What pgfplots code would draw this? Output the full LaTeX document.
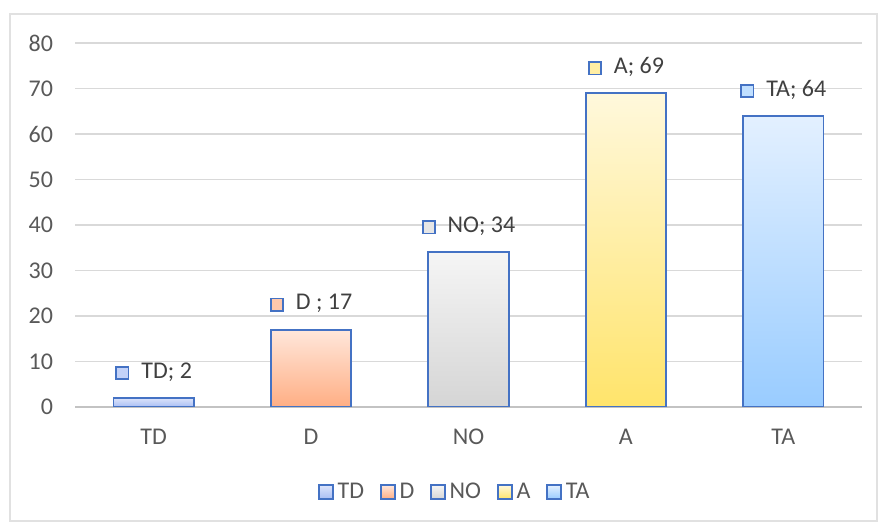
\documentclass[border=0pt]{standalone}
\usepackage{pgfplots}
\pgfplotsset{compat=1.18}
\usepackage{fontspec}
\setmainfont{Carlito}
\definecolor{bord}{HTML}{4472C4}
\definecolor{txt}{HTML}{595959}
\definecolor{lbl}{HTML}{404040}
\definecolor{grid}{HTML}{D9D9D9}
\definecolor{tdT}{HTML}{DCE4FB}\definecolor{tdB}{HTML}{A9BEF3}\definecolor{tdM}{HTML}{C3D2F8}
\definecolor{dT}{HTML}{FFE7DB}\definecolor{dB}{HTML}{FFAE84}\definecolor{dM}{HTML}{FFC8AC}
\definecolor{noT}{HTML}{F5F5F5}\definecolor{noB}{HTML}{D5D5D5}\definecolor{noM}{HTML}{E6E6E6}
\definecolor{aT}{HTML}{FFF8DC}\definecolor{aB}{HTML}{FFE46B}\definecolor{aM}{HTML}{FFEEA4}
\definecolor{taT}{HTML}{E3F0FF}\definecolor{taB}{HTML}{99CCFF}\definecolor{taM}{HTML}{C0DFFF}
\newcommand{\sq}[1]{{\setlength{\fboxsep}{0pt}\setlength{\fboxrule}{0.9pt}\fcolorbox{bord}{#1}{\rule{0pt}{5.2pt}\rule{5.2pt}{0pt}}}}
\pgfplotsset{
  mybar/.style={ybar, bar shift=0pt, bar width=0.51, draw=bord, line width=0.9pt,
    legend image code/.code={\draw[##1, line width=0.9pt] (0pt,-3.4pt) rectangle (6.8pt,3.4pt);}},
}
\begin{document}
\begin{tikzpicture}
\begin{axis}[
  at={(0,0)}, anchor=south west,
  scale only axis, width=393.5pt, height=182pt,
  xmin=-0.5, xmax=4.5, ymin=0, ymax=80,
  xtick={0,1,2,3,4}, xticklabels={TD,D,NO,A,TA},
  ytick={0,10,...,80},
  axis lines*=left,
  x axis line style={-, draw=grid!90!black, line width=0.8pt},
  y axis line style={draw=none},
  xtick style={draw=none}, ytick style={draw=none},
  extra x ticks={-0.5,0.5,1.5,2.5,3.5,4.5},
  extra x tick labels={},
  extra x tick style={tick align=outside, major tick length=4pt, tick style={draw=grid!90!black, line width=0.8pt}},
  ymajorgrids, grid style={draw=grid, line width=0.8pt},
  tick label style={font=\fontsize{12}{14}\selectfont, text=txt},
  yticklabel style={xshift=-7.5pt},
  xticklabel style={anchor=base, yshift=-19pt},
  /pgf/number format/assume math mode=true,
  nodes near coords style={anchor=center, yshift=13pt, font=\fontsize{12}{14}\selectfont, text=lbl},
  legend columns=5,
  legend style={at={(0.484,-0.2335)}, anchor=center, draw=none, fill=none,
    font=\fontsize{12}{14}\selectfont, text=txt,
    /tikz/every even column/.append style={column sep=6pt}},
  legend cell align=left,
]
\addplot[mybar, top color=tdT, bottom color=tdB, nodes near coords={\sq{tdM}\hspace{6pt}TD; \pgfmathprintnumber{\pgfplotspointmeta}}] coordinates {(0,2)};
\addplot[mybar, top color=dT, bottom color=dB, nodes near coords={\sq{dM}\hspace{6pt}D ; \pgfmathprintnumber{\pgfplotspointmeta}}] coordinates {(1,17)};
\addplot[mybar, top color=noT, bottom color=noB, nodes near coords={\sq{noM}\hspace{6pt}NO; \pgfmathprintnumber{\pgfplotspointmeta}}] coordinates {(2,34)};
\addplot[mybar, top color=aT, bottom color=aB, nodes near coords={\sq{aM}\hspace{6pt}A; \pgfmathprintnumber{\pgfplotspointmeta}}] coordinates {(3,69)};
\addplot[mybar, top color=taT, bottom color=taB, nodes near coords={\sq{taM}\hspace{6pt}TA; \pgfmathprintnumber{\pgfplotspointmeta}}] coordinates {(4,64)};
\legend{TD,D,NO,A,TA}
\end{axis}
\draw[draw=grid!80, line width=0.8pt] (-32.5pt,-57pt) rectangle (401pt,196.5pt);
\pgfresetboundingbox
\path[use as bounding box] (-37.5pt,-57.5pt) rectangle (401.5pt,203.5pt);
\end{tikzpicture}
\end{document}
